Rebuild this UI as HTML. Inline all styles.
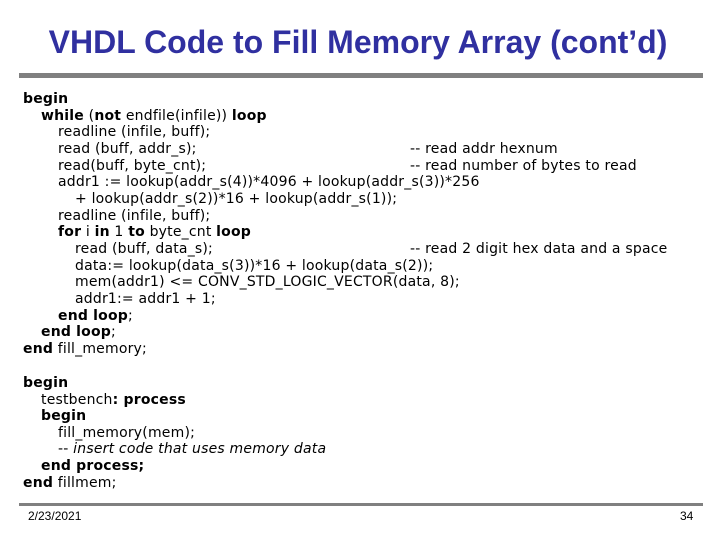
<!DOCTYPE html>
<html><head><meta charset="utf-8"><style>
body{margin:0;width:720px;height:540px;background:#fff;position:relative;overflow:hidden}
.t{position:absolute;left:0;width:716px;top:24px;text-align:center;font:bold 32px "Liberation Sans",sans-serif;color:#3030a0;line-height:36px}
.bar{position:absolute;left:19px;width:684px;background:#808080}
.l{position:absolute;font:14px "DejaVu Sans",sans-serif;letter-spacing:0.2px;color:#000;white-space:pre;line-height:16px}
b{font-weight:bold}
.f{position:absolute;font:12px "Liberation Sans",sans-serif;top:509px}
</style></head><body>
<div class="t">VHDL Code to Fill Memory Array (cont’d)</div>
<div class="bar" style="top:73px;height:5px"></div>
<div class="bar" style="top:503px;height:3px"></div>
<div class="l" style="left:23px;top:91px"><b>begin</b></div>
<div class="l" style="left:41px;top:108px"><b>while</b> (<b>not</b> endfile(infile)) <b>loop</b></div>
<div class="l" style="left:58px;top:124px">readline (infile, buff);</div>
<div class="l" style="left:58px;top:141px">read (buff, addr_s);</div>
<div class="l" style="left:410px;top:141px">-- read addr hexnum</div>
<div class="l" style="left:58px;top:158px">read(buff, byte_cnt);</div>
<div class="l" style="left:410px;top:158px">-- read number of bytes to read</div>
<div class="l" style="left:58px;top:174px">addr1 := lookup(addr_s(4))*4096 + lookup(addr_s(3))*256</div>
<div class="l" style="left:75px;top:191px">+ lookup(addr_s(2))*16 + lookup(addr_s(1));</div>
<div class="l" style="left:58px;top:208px">readline (infile, buff);</div>
<div class="l" style="left:58px;top:224px"><b>for</b> i <b>in</b> 1 <b>to</b> byte_cnt <b>loop</b></div>
<div class="l" style="left:75px;top:241px">read (buff, data_s);</div>
<div class="l" style="left:410px;top:241px">-- read 2 digit hex data and a space</div>
<div class="l" style="left:75px;top:258px">data:= lookup(data_s(3))*16 + lookup(data_s(2));</div>
<div class="l" style="left:75px;top:274px">mem(addr1) &lt;= CONV_STD_LOGIC_VECTOR(data, 8);</div>
<div class="l" style="left:75px;top:291px">addr1:= addr1 + 1;</div>
<div class="l" style="left:58px;top:308px"><b>end loop</b>;</div>
<div class="l" style="left:41px;top:324px"><b>end loop</b>;</div>
<div class="l" style="left:23px;top:341px"><b>end</b> fill_memory;</div>
<div class="l" style="left:23px;top:375px"><b>begin</b></div>
<div class="l" style="left:41px;top:392px">testbench<b>: process</b></div>
<div class="l" style="left:41px;top:408px"><b>begin</b></div>
<div class="l" style="left:58px;top:425px">fill_memory(mem);</div>
<div class="l" style="left:58px;top:441px">-- <i>insert code that uses memory data</i></div>
<div class="l" style="left:41px;top:458px"><b>end process;</b></div>
<div class="l" style="left:23px;top:475px"><b>end</b> fillmem;</div>
<div class="f" style="left:28px">2/23/2021</div>
<div class="f" style="left:680px">34</div>
</body></html>
